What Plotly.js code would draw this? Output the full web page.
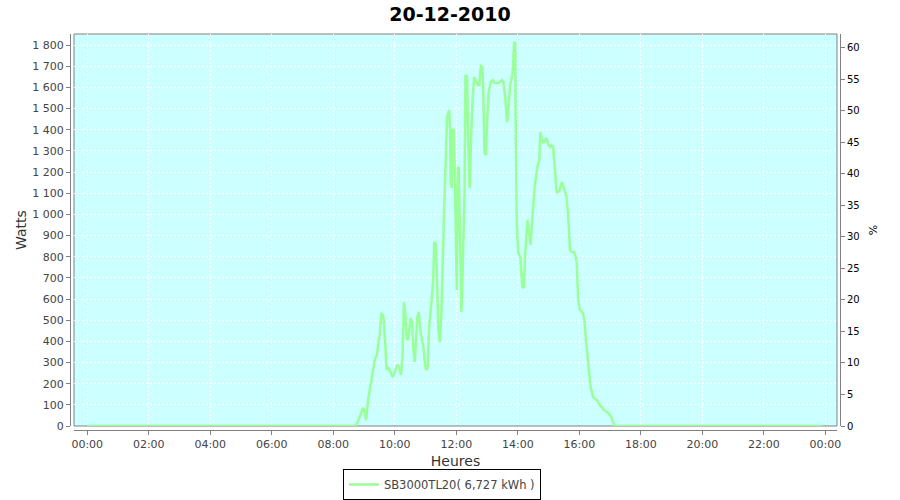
<!DOCTYPE html>
<html><head><meta charset="utf-8">
<script src="https://cdn.plot.ly/plotly-3.0.1.min.js"></script>
<style>body{margin:0;background:#fff}</style>
</head><body><div id="chart" style="width:900px;height:500px"></div>
<script>
const day = "2010-12-20";
const seriesName = "SB3000TL20( 6,727 kWh )";
const times = ["00:00","08:42","08:48","08:54","08:58","09:01","09:04","09:08","09:15","09:21","09:25","09:28","09:31","09:34","09:38","09:41","09:44","09:47","09:52","09:56","10:00","10:05","10:09","10:12","10:15","10:18","10:21","10:23","10:26","10:31","10:34","10:36","10:39","10:44","10:47","10:49","10:52","10:56","10:59","11:01","11:04","11:07","11:12","11:15","11:17","11:20","11:23","11:25","11:28","11:31","11:35","11:37","11:39","11:42","11:46","11:48","11:49","11:51","11:53","11:55","11:57","11:59","12:01","12:03","12:05","12:07","12:10","12:12","12:16","12:18","12:21","12:23","12:26","12:29","12:32","12:35","12:38","12:42","12:45","12:48","12:51","12:53","12:55","12:58","13:00","13:03","13:07","13:11","13:15","13:22","13:29","13:32","13:36","13:39","13:41","13:45","13:48","13:50","13:53","13:55","13:56","13:58","14:01","14:05","14:09","14:12","14:14","14:19","14:22","14:25","14:29","14:33","14:38","14:42","14:44","14:46","14:50","14:53","14:56","15:00","15:03","15:06","15:09","15:12","15:16","15:21","15:26","15:30","15:35","15:38","15:42","15:45","15:50","15:53","15:55","15:58","16:01","16:07","16:10","16:13","16:18","16:22","16:27","16:34","16:40","16:48","16:57","17:02","17:06","17:10","23:55"];
const watts = [0,0,19,61,85,71,
28,123,231,312,335,
383,439,534,515,406,
265,279,255,231,255,
288,274,241,326,586,
524,416,406,510,487,
373,302,515,539,468,
420,373,288,265,274,
468,595,690,869,860,
642,454,397,534,912,
1082,1290,1460,1493,1398,
1148,1124,1398,1398,1209,
926,642,1224,1219,926,
539,690,1082,1658,1649,
1365,1124,1365,1554,1649,
1634,1611,1611,1701,1696,
1554,1290,1280,1431,1573,
1625,1634,1620,1620,1634,
1625,1540,1436,1469,1611,
1644,1672,1809,1814,1398,
959,817,798,657,652,
798,973,912,855,1006,
1129,1224,1257,1389,1365,
1337,1351,1361,1327,1318,
1327,1318,1224,1101,1110,
1153,1124,1082,1006,831,
822,822,798,770,595,
548,534,501,406,279,
184,137,123,99,76,
61,43,19,0,0];

const F = "DejaVu Sans";
const x = times.map(t => day + " " + t);

const traces = [
  {x: x, y: watts, type: "scatter", mode: "lines", name: seriesName,
   line: {color: "#99FF99", width: 2.5}, hoverinfo: "x+y"},
  {x: [], y: [], type: "scatter", mode: "lines", yaxis: "y2", showlegend: false, hoverinfo: "skip"}
];

const axisCommon = {
  ticks: "outside", ticklen: 4, tickcolor: "#808080",
  showline: true, linecolor: "#808080", linewidth: 1,
  zeroline: false, automargin: false
};

const layout = {
  width: 900, height: 500,
  margin: {l: 70, r: 60, t: 34, b: 70, pad: 0, autoexpand: false},
  paper_bgcolor: "#ffffff", plot_bgcolor: "#CCFFFF",
  separators: ", ",
  title: {text: "20-12-2010", font: {family: F, size: 19, color: "#000", weight: "bold"},
          x: 0.5, xref: "container", xanchor: "center", y: 0.972, yref: "container", yanchor: "middle"},
  xaxis: Object.assign({}, axisCommon, {
    type: "date", domain: [0.0052, 0.9961], anchor: "free", position: 0,
    range: ["2010-12-19 23:34:12", "2010-12-21 00:22:48"],
    tick0: "2010-12-20 00:00", dtick: 7200000, tickformat: "%H:%M",
    showgrid: true, gridcolor: "#ffffff", griddash: "2px,2px", gridwidth: 1,
    tickfont: {family: F, size: 11, color: "#444"},
    title: {text: "Heures", font: {family: F, size: 14, color: "#333"}, standoff: 8}
  }),
  yaxis: Object.assign({}, axisCommon, {
    domain: [0.0101, 1], anchor: "free", position: 0,
    range: [0, 1852], tick0: 0, dtick: 100, separatethousands: true,
    showgrid: true, gridcolor: "#ffffff", griddash: "2px,2px", gridwidth: 1,
    tickfont: {family: F, size: 11, color: "#444"},
    title: {text: "Watts", font: {family: F, size: 14, color: "#333"}, standoff: 1}
  }),
  yaxis2: Object.assign({}, axisCommon, {
    overlaying: "y", side: "right", anchor: "free", position: 1,
    range: [0, 62.2], tick0: 0, dtick: 5, showgrid: false,
    tickfont: {family: F, size: 10, color: "#000"},
    title: {text: "%", font: {family: F, size: 11, color: "#000"}, standoff: 10}
  }),
  shapes: [{type: "rect", xref: "x domain", yref: "y domain", x0: 0, x1: 1, y0: 0, y1: 1,
            line: {color: "#808080", width: 1}, fillcolor: "rgba(0,0,0,0)", layer: "below"}],
  showlegend: true,
  legend: {orientation: "h", x: 0.491, xref: "container", xanchor: "center",
           y: 0.031, yref: "container", yanchor: "middle",
           bordercolor: "#000", borderwidth: 1, bgcolor: "#ffffff",
           font: {family: F, size: 11.5, color: "#444"}, itemwidth: 30}
};

Plotly.newPlot("chart", traces, layout, {displayModeBar: false, staticPlot: true});
</script>
</body></html>
